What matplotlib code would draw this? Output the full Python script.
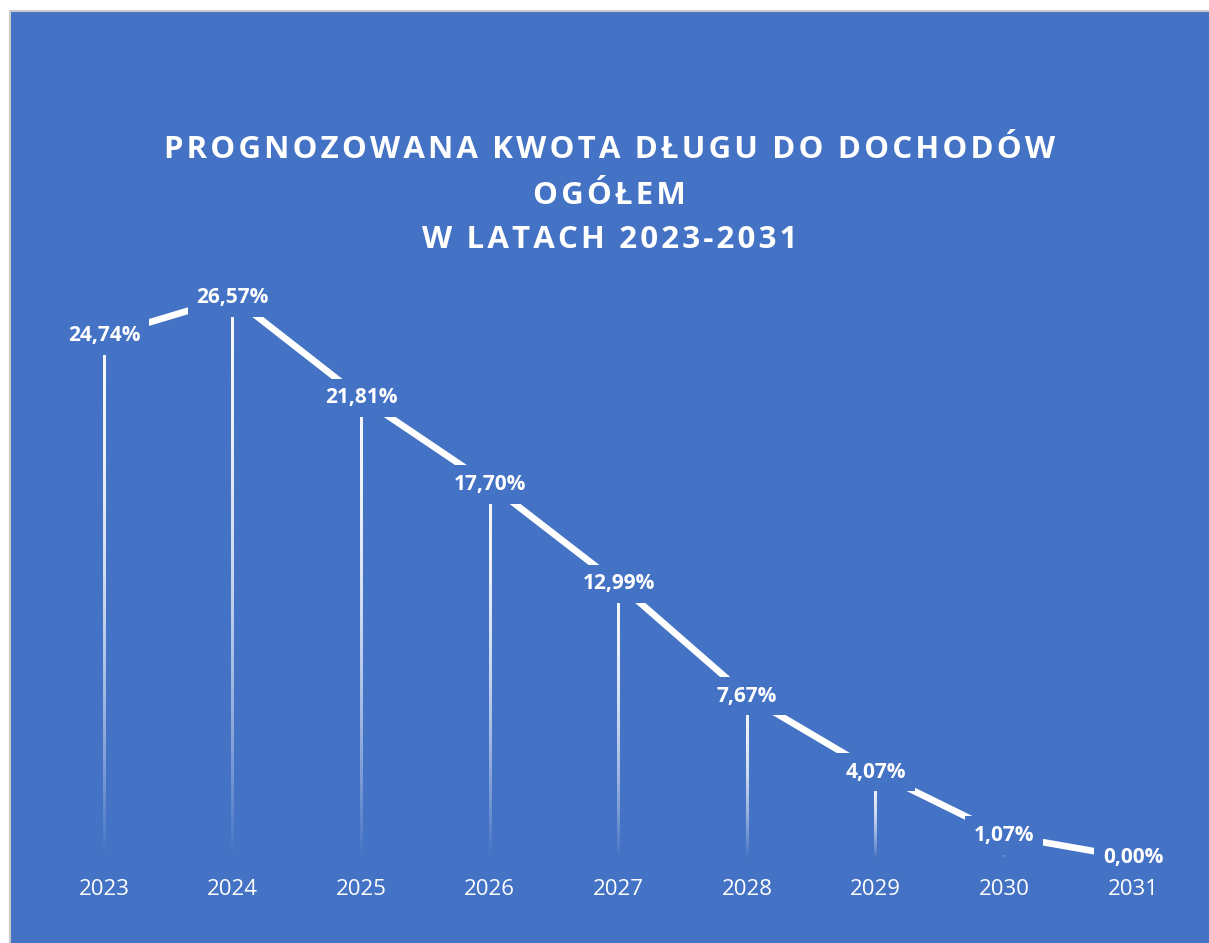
import numpy as np
import matplotlib
matplotlib.use('Agg')
import matplotlib.pyplot as plt
from matplotlib.patches import Rectangle

# data
years = [2023, 2024, 2025, 2026, 2027, 2028, 2029, 2030, 2031]
ratio = [24.74, 26.57, 21.81, 17.70, 12.99, 7.67, 4.07, 1.07, 0.00]
labels = ['24,74%', '26,57%', '21,81%', '17,70%', '12,99%', '7,67%', '4,07%', '1,07%', '0,00%']
title_lines = ['PROGNOZOWANA KWOTA DŁUGU DO DOCHODÓW', 'OGÓŁEM', 'W LATACH 2023-2031']

blue = '#4472C4'
W, H = 1209, 943
plt.rcParams['font.family'] = ['Open Sans', 'DejaVu Sans']

fig = plt.figure(figsize=(W/100, H/100), dpi=100, facecolor='white')
# blue chart area with a thin grey frame (white margin top/left)
fig.patches.append(Rectangle((10/W, -0.01), 1.0, (H-11)/H + 0.01, transform=fig.transFigure,
                             fc=blue, ec='#c9c9c9', lw=1.5, zorder=-5))

ax = fig.add_axes([0, 85/H, 1, 844/H])
ax.set_facecolor('none')
xlim = (2023 - 104/128.625, 2031 + 76/128.625)
ylim = (0, 40)

# drop lines: white at the point, fading out toward the axis
hw = 1.3 / 128.625   # half width in data units (~1.3 px)
n = 200
t = np.linspace(0, 1, n)[:, None]          # 0 at axis (row 0), 1 at point
grad = np.zeros((n, 1, 4))
grad[..., :3] = 1.0
grad[..., 3] = 0.95 * (1 - (1 - t)**2)
for x, y in zip(years, ratio):
    if y <= 0:
        continue
    ax.imshow(grad, extent=(x - hw, x + hw, 0, y), origin='lower', aspect='auto',
              interpolation='bilinear', zorder=2)

ax.plot(years, ratio, color='white', lw=4.8, solid_capstyle='butt', zorder=3, clip_on=False)

for x, y, s in zip(years, ratio, labels):
    ax.text(x, y, s, ha='center', va='center', color='white', fontsize=15, fontweight='bold',
            zorder=5, clip_on=False,
            bbox=dict(boxstyle='square,pad=0.42', fc=blue, ec='none'))

ax.set_xlim(*xlim)
ax.set_ylim(*ylim)
for sp in ax.spines.values():
    sp.set_visible(False)
ax.set_yticks([])
ax.set_xticks(years)
ax.set_xticklabels([str(y) for y in years])
ax.tick_params(axis='x', length=0, pad=15, labelsize=16, labelcolor='white')

# title with letter spacing
for s, yp in zip(title_lines, [150, 196, 240]):
    fig.text(609.5/W, 1 - yp/H, '\u200a'.join(s), ha='center', va='center',
             color='white', fontsize=22.5, fontweight='bold')

fig.savefig('out.png', dpi=100, facecolor='white')
